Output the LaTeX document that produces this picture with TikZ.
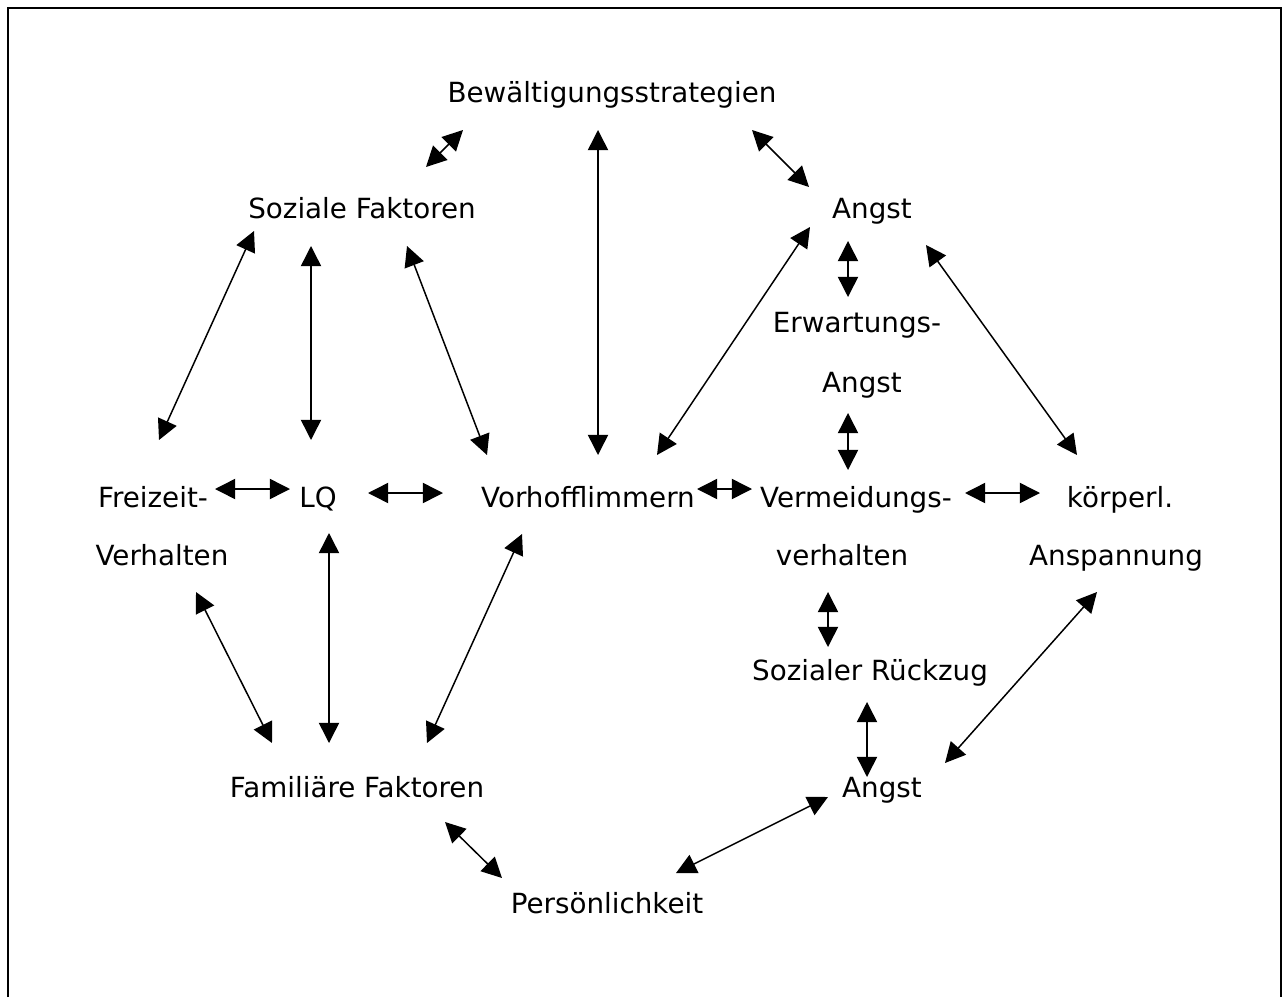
\documentclass[tikz,border=0pt]{standalone}
\usepackage{fontspec}
\setmainfont{DejaVu Sans}
\usepackage{tikz}
\usetikzlibrary{arrows.meta}
\usetikzlibrary{positioning}

\begin{document}
\begin{tikzpicture}[x=0.02cm,y=-0.02cm,
  every node/.style={inner sep=0pt,anchor=base,font=\fontsize{15.8}{19}\selectfont},
  link/.style={{Triangle[length=11.5pt,width=11.5pt]}-{Triangle[length=11.5pt,width=11.5pt]},line width=0.85pt}]
  \useasboundingbox (0,0) rectangle (1287,997);
  \draw[line width=1.2pt] (8,997) -- (8,8) -- (1281,8) -- (1281,997);

  % top part
  \node (bew) at (612,103) {Bewältigungsstrategien};
  \node (soz) at (362,218) {Soziale Faktoren};
  \node (angst1) at (872,218) {Angst};
  \node (erw) at (857,332) {Erwartungs-};
  \node (angst2) at (862,392) {Angst};
  % middle row
  \node (frei) at (153,507) {Freizeit-};
  \node (lq) at (318,507) {LQ};
  \node (vorhof) at (588,507) {Vorhofflimmern};
  \node (verm) at (856,507) {Vermeidungs-};
  \node (koerp) at (1120,507) {körperl.};
  \node (verh) at (162,565) {Verhalten};
  \node (verh2) at (842,565) {verhalten};
  \node (ansp) at (1116,565) {Anspannung};
  % bottom part
  \node (rueck) at (870,680) {Sozialer Rückzug};
  \node (fam) at (357,797) {Familiäre Faktoren};
  \node (angst3) at (882,797) {Angst};
  \node (pers) at (607,913) {Persönlichkeit};

  \draw[link] ([shift={(-149,27)}]bew.base) -- ([shift={(64,-51)}]soz.base);
  \draw[link] ([shift={(-14,27)}]bew.base) -- ([shift={(10,-52)}]vorhof.base);
  \draw[link] ([shift={(140,27)}]bew.base) -- ([shift={(-63,-31)}]angst1.base);
  \draw[link] ([shift={(-108,13)}]soz.base) -- ([shift={(6,-67)}]frei.base);
  \draw[link] ([shift={(-51,28)}]soz.base) -- ([shift={(-7,-67)}]lq.base);
  \draw[link] ([shift={(45,28)}]soz.base) -- ([shift={(-101,-52)}]vorhof.base);
  \draw[link] ([shift={(-62,9)}]angst1.base) -- ([shift={(69,-52)}]vorhof.base);
  \draw[link] ([shift={(-24,23)}]angst1.base) -- ([shift={(-9,-35)}]erw.base);
  \draw[link] ([shift={(54,27)}]angst1.base) -- ([shift={(-43,-52)}]koerp.base);
  \draw[link] ([shift={(-14,21)}]angst2.base) -- ([shift={(-8,-37)}]verm.base);

  \draw[link] ([shift={(62,-18)}]frei.base) -- ([shift={(-28,-18)}]lq.base);
  \draw[link] ([shift={(50,-14)}]lq.base) -- ([shift={(-145,-14)}]vorhof.base);
  \draw[link] ([shift={(109,-18)}]vorhof.base) -- ([shift={(-104,-18)}]verm.base);
  \draw[link] ([shift={(109,-14)}]verm.base) -- ([shift={(-80,-14)}]koerp.base);

  \draw[link] ([shift={(34,27)}]verh.base) -- ([shift={(-85,-54)}]fam.base);
  \draw[link] ([shift={(11,26)}]lq.base) -- ([shift={(-28,-54)}]fam.base);
  \draw[link] ([shift={(-66,27)}]vorhof.base) -- ([shift={(70,-54)}]fam.base);
  \draw[link] ([shift={(-14,27)}]verh2.base) -- ([shift={(-42,-33)}]rueck.base);
  \draw[link] ([shift={(-3,22)}]rueck.base) -- ([shift={(-15,-20)}]angst3.base);
  \draw[link] ([shift={(-19,27)}]ansp.base) -- ([shift={(63,-34)}]angst3.base);
  \draw[link] ([shift={(88,25)}]fam.base) -- ([shift={(-105,-35)}]pers.base);
  \draw[link] ([shift={(-54,0)}]angst3.base) -- ([shift={(69,-40)}]pers.base);
\end{tikzpicture}
\end{document}
